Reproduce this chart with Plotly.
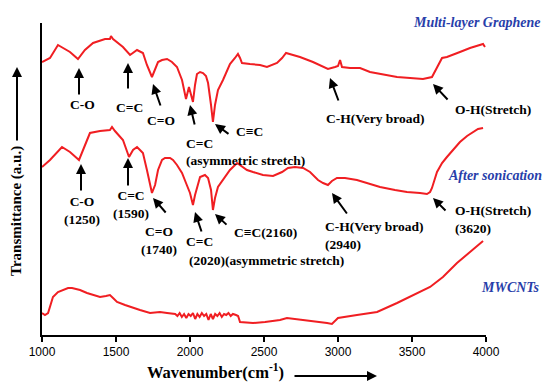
import plotly.graph_objects as go

# ---- data (wavenumber cm-1, transmittance a.u.) ----
graphene_wn = [1000, 1054, 1108, 1155, 1189, 1243, 1290, 1345, 1392, 1426, 1459, 1466, 1480, 1514, 1547,
               1595, 1642, 1682, 1709, 1743, 1764, 1784, 1811, 1845, 1878, 1912, 1946, 1966, 1973, 1993,
               2007, 2020, 2034, 2047, 2068, 2088, 2108, 2122, 2142, 2155, 2169, 2189, 2223, 2270, 2304,
               2324, 2338, 2351, 2405, 2473, 2520, 2588, 2622, 2649, 2696, 2743, 2831, 2878, 2932, 2980,
               3000, 3014, 3027, 3081, 3149, 3216, 3318, 3399, 3487, 3574, 3635, 3669, 3703, 3736, 3777,
               3824, 3892, 3946, 3980, 3993]
graphene_t = [273, 277, 290, 286, 283, 276, 285, 292, 294, 296, 296, 299, 296, 292, 288,
              280, 285, 282, 270, 258, 266, 273, 275, 276, 273, 268, 255, 243, 236, 248,
              240, 233, 250, 261, 263, 262, 259, 252, 230, 213, 230, 245, 255, 271, 277,
              281, 277, 272, 271, 270, 268, 272, 277, 282, 280, 278, 273, 270, 266, 268,
              269, 275, 268, 267, 267, 263, 260, 258, 257, 256, 258, 267, 277, 278, 280,
              283, 287, 289, 291, 288]

sonic_wn = [1000, 1054, 1135, 1189, 1250, 1291, 1324, 1392, 1459, 1473, 1493, 1547, 1588, 1615, 1642,
            1662, 1682, 1709, 1730, 1743, 1764, 1784, 1811, 1831, 1865, 1885, 1912, 1946, 1973, 2000,
            2020, 2034, 2068, 2101, 2122, 2142, 2155, 2169, 2189, 2230, 2270, 2318, 2338, 2385, 2426,
            2493, 2561, 2622, 2662, 2709, 2764, 2811, 2865, 2899, 2932, 2959, 2993, 3047, 3128, 3216,
            3284, 3385, 3466, 3554, 3601, 3622, 3635, 3669, 3703, 3736, 3777, 3824, 3872, 3912, 3946,
            3980]
sonic_t = [168, 175, 188, 183, 175, 190, 202, 204, 205, 208, 204, 195, 178, 185, 188,
           185, 182, 165, 150, 142, 150, 165, 175, 177, 177, 175, 170, 162, 152, 142,
           130, 140, 158, 160, 157, 145, 125, 137, 148, 157, 165, 172, 170, 165, 163,
           160, 159, 163, 167, 168, 167, 163, 155, 152, 150, 154, 157, 157, 155, 151,
           148, 145, 143, 142, 141, 143, 147, 163, 172, 178, 185, 193, 199, 203, 206,
           207]

mwcnt_wn = [1000, 1020, 1041, 1074, 1108, 1142, 1176, 1203, 1257, 1304, 1392, 1432, 1459, 1480, 1507,
            1561, 1615, 1662, 1730, 1797, 1845, 1900, 1915, 1930, 1945, 1960, 1975, 1990, 2005, 2020,
            2035, 2050, 2065, 2080, 2095, 2110, 2125, 2140, 2155, 2170, 2185, 2200, 2215, 2230, 2245,
            2260, 2275, 2290, 2311, 2325, 2338, 2426, 2507, 2608, 2655, 2709, 2764, 2845, 2926, 2959,
            3000, 3128, 3264, 3399, 3507, 3622, 3709, 3804, 3892, 3980]
mwcnt_t = [22, 20, 22, 38, 43, 45, 47, 47, 45, 42, 38, 39, 40, 37, 33,
           30, 27, 25, 22, 23, 22, 21, 19, 22, 18, 21, 17, 21, 19, 22,
           16, 21, 18, 22, 19, 21, 15, 21, 16, 21, 19, 22, 18, 21, 20,
           22, 19, 21, 20, 19, 13, 12, 13, 15, 17, 16, 15, 14, 12, 11,
           17, 20, 23, 32, 40, 48, 58, 72, 83, 94]

tick_vals = [1000, 1500, 2000, 2500, 3000, 3500, 4000]
tick_text = ["1000", "1500", "2000", "2500", "3000", "3500", "4000"]

RED = "rgb(240,30,34)"
BLUE = "rgb(40,62,170)"
SERIF = "Liberation Serif"

fig = go.Figure()
for wn, t in [(graphene_wn, graphene_t), (sonic_wn, sonic_t), (mwcnt_wn, mwcnt_t)]:
    fig.add_trace(go.Scatter(x=wn, y=t, mode="lines", line=dict(color=RED, width=2), showlegend=False))

L, R, T, B = 42, 486, 23, 335


def P(px, py):
    return (px - L) / (R - L), (B - py) / (B - T)


ann = []


def text(px, py, s, size=13.5, anchor="center", color="black", italic=False, angle=0):
    x, y = P(px, py)
    st = "<b><i>%s</i></b>" % s if italic else "<b>%s</b>" % s
    ann.append(dict(x=x, y=y, xref="paper", yref="paper", text=st, showarrow=False,
                    xanchor=anchor, yanchor="middle", textangle=angle, align="left" if anchor == "left" else "center",
                    font=dict(family=SERIF, size=size, color=color)))


def arrow(hx, hy, tx, ty, w=2):
    x, y = P(hx, hy)
    ann.append(dict(x=x, y=y, xref="paper", yref="paper", text="", showarrow=True,
                    ax=tx - hx, ay=ty - hy, arrowhead=2, arrowsize=1, arrowwidth=w,
                    arrowcolor="black", standoff=0, startstandoff=0))


# top curve annotations
text(82, 105, "C-O"); arrow(79, 68, 79, 96)
text(129, 107, "C=C"); arrow(128, 63, 128, 90)
text(161, 120, "C=O"); arrow(153, 84, 161, 107)
text(199, 143, "C=C"); arrow(190, 105, 195, 126)
text(245, 160, "(asymmetric stretch)")
text(249, 131, "C≡C"); arrow(215, 124, 230, 135)
text(375, 118, "C-H(Very broad)"); arrow(330, 78, 339, 102)
text(493, 109, "O-H(Stretch)"); arrow(433, 84, 449, 101)

# middle curve annotations
text(82, 210, "C-O<br>(1250)"); arrow(81, 164, 81, 192)
text(131, 205, "C=C<br>(1590)"); arrow(128, 158, 128, 187)
text(159, 240, "C=O<br>(1740)"); arrow(153, 198, 167, 214)
text(199, 241, "C=C"); arrow(195, 212, 202, 233)
text(266, 260, "(2020)(asymmetric stretch)")
text(265, 232, "C≡C(2160)"); arrow(215, 214, 228, 226)
text(323, 235, "C-H(Very broad)<br>(2940)", anchor="left"); arrow(332, 193, 348, 215)
text(453, 219, "O-H(Stretch)<br>(3620)", anchor="left"); arrow(433, 198, 447, 212)

# sample labels
text(542, 22, "Multi-layer Graphene", size=14, anchor="right", color=BLUE, italic=True)
text(544, 175, "After sonication", size=14, anchor="right", color=BLUE, italic=True)
text(542, 287, "MWCNTs", size=14, anchor="right", color=BLUE, italic=True)

# axis titles with arrows
text(16, 211, "Transmittance (a.u.)", size=15, angle=-90)
arrow(17, 67, 17, 142)
text(215, 371, "Wavenumber(cm<sup>-1</sup>)", size=16.5)
arrow(377, 376, 293, 376)

fig.update_layout(
    width=545, height=382,
    margin=dict(l=L, r=545 - R, t=T, b=382 - B, pad=0),
    paper_bgcolor="white", plot_bgcolor="white",
    annotations=ann,
    xaxis=dict(range=[1000, 4000], tickvals=tick_vals, ticktext=tick_text, showgrid=False, zeroline=False,
               showline=True, linecolor="black", linewidth=2, ticks="outside", ticklen=5, tickwidth=2,
               tickcolor="black", tickfont=dict(family="Liberation Sans", size=12, color="black"),
               tickprefix="<b>", ticksuffix="</b>"),
    yaxis=dict(range=[0, 312], showgrid=False, zeroline=False, showline=True, linecolor="black", linewidth=2,
               showticklabels=False, ticks=""),
)

fig.write_html("out.html")
